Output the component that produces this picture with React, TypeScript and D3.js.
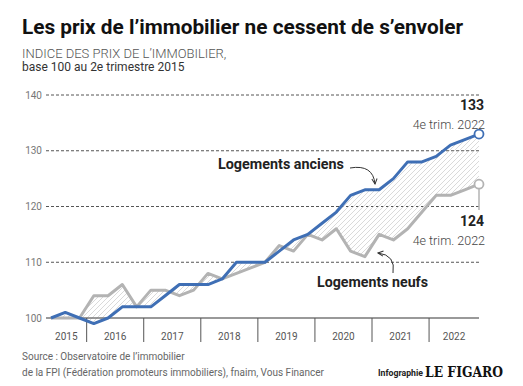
import React from "react";
import * as d3 from "d3";

const years = ["2015", "2016", "2017", "2018", "2019", "2020", "2021", "2022"];
const yTicks = [100, 110, 120, 130, 140];
// Quarterly, from 2e trimestre 2015 to 4e trimestre 2022
const anciens = [100, 101, 100, 99, 100, 102, 102, 102, 104, 106, 106, 106, 107, 110, 110, 110, 112, 114, 115, 117, 119, 122, 123, 123, 125, 128, 128, 129, 131, 132, 133];
const neufs = [100, 100, 100, 104, 104, 106, 102, 105, 105, 104, 105, 108, 107, 108, 109, 110, 113, 112, 115, 114, 116, 112, 111, 115, 114, 116, 119, 122, 122, 123, 124];

const W = 523;
const H = 386;
const BLUE = "#3f6fb5";
const GREY = "#b3b3b3";
const FONT = "Roboto, 'Noto Sans', sans-serif";

export default function App() {
  const x = d3.scaleLinear().domain([0, anciens.length - 1]).range([51, 479]);
  const y = d3.scaleLinear().domain([100, 140]).range([318, 95]);
  const left = 46;
  const right = 479;

  const line = d3
    .line<number>()
    .x((_, i) => x(i))
    .y((d) => y(d));
  const area = d3
    .area<number>()
    .x((_, i) => x(i))
    .y0((_, i) => y(neufs[i]))
    .y1((d) => y(d));

  const seps = years.slice(1).map((_, k) => x(2.5 + 4 * k));
  const bounds = [left, ...seps, right];
  const last = anciens.length - 1;

  return (
    <svg width={W} height={H} style={{ position: "absolute", left: 0, top: 0 }} fontFamily={FONT}>
      <defs>
        <pattern id="hatch" patternUnits="userSpaceOnUse" width="5" height="5">
          <path d="M-1,1 L1,-1 M0,5 L5,0 M4,6 L6,4" stroke="#d0d0d0" strokeWidth="0.8" />
        </pattern>
        <marker id="arr" viewBox="0 0 8 8" refX="7" refY="4" markerWidth="7" markerHeight="7" orient="auto">
          <path d="M1,1 L7,4 L1,7" fill="none" stroke="#333" strokeWidth="1.1" />
        </marker>
      </defs>
      <rect width={W} height={H} fill="#fff" />

      <text x={22} y={34} fontSize={20} fontWeight={700} fill="#111" textLength={441} lengthAdjust="spacingAndGlyphs">
        Les prix de l’immobilier ne cessent de s’envoler
      </text>
      <text x={22} y={58} fontSize={13} fontWeight={300} fill="#555">
        INDICE DES PRIX DE L’IMMOBILIER,
      </text>
      <text x={22} y={71} fontSize={12} fontWeight={400} fill="#333">
        base 100 au 2e trimestre 2015
      </text>

      {yTicks.map((t) => (
        <g key={t}>
          {t !== 100 && (
            <line x1={left} x2={right} y1={y(t)} y2={y(t)} stroke="#555" strokeWidth={1} strokeDasharray="3,2" />
          )}
          <text x={42} y={y(t) + 3.5} fontSize={10} fill="#777" textAnchor="end">
            {t}
          </text>
        </g>
      ))}

      <path d={area(anciens) || ""} fill="url(#hatch)" />

      <line x1={left} x2={right} y1={y(100)} y2={y(100)} stroke="#777" strokeWidth={1.5} />
      {seps.map((s, i) => (
        <line key={i} x1={s} x2={s} y1={y(100)} y2={342} stroke="#555" strokeWidth={1} />
      ))}
      {years.map((yr, i) => (
        <text key={yr} x={(bounds[i] + bounds[i + 1]) / 2} y={340} fontSize={10} fill="#555" textAnchor="middle">
          {yr}
        </text>
      ))}

      <path d={line(neufs) || ""} fill="none" stroke={GREY} strokeWidth={3} strokeLinejoin="round" />
      <path d={line(anciens) || ""} fill="none" stroke={BLUE} strokeWidth={3} strokeLinejoin="round" />

      <line x1={x(last)} x2={x(last)} y1={y(neufs[last])} y2={210} stroke={GREY} strokeWidth={1.5} />
      <circle cx={x(last)} cy={y(anciens[last])} r={4.5} fill="#fff" stroke={BLUE} strokeWidth={1.8} />
      <circle cx={x(last)} cy={y(neufs[last])} r={4.5} fill="#fff" stroke={GREY} strokeWidth={1.8} />

      <text x={484} y={110} fontSize={14} fontWeight={700} fill="#222" textAnchor="end">
        {anciens[last]}
      </text>
      <text x={485} y={129} fontSize={12.5} fontWeight={300} fill="#444" textAnchor="end">
        4e trim. 2022
      </text>
      <text x={484} y={226} fontSize={14} fontWeight={700} fill="#222" textAnchor="end">
        {neufs[last]}
      </text>
      <text x={485} y={245} fontSize={12.5} fontWeight={300} fill="#444" textAnchor="end">
        4e trim. 2022
      </text>

      <text x={218} y={169} fontSize={14} fontWeight={700} fill="#222" textLength={126} lengthAdjust="spacingAndGlyphs">
        Logements anciens
      </text>
      <path d="M350,168 Q373,164 375,184" fill="none" stroke="#333" strokeWidth={1} markerEnd="url(#arr)" />
      <text x={317} y={287} fontSize={14} fontWeight={700} fill="#222" textLength={111} lengthAdjust="spacingAndGlyphs">
        Logements neufs
      </text>
      <path d="M393,273 Q396,255 378,253" fill="none" stroke="#333" strokeWidth={1} markerEnd="url(#arr)" />

      <text x={22} y={360} fontSize={10} fill="#666">
        Source : Observatoire de l’immobilier
      </text>
      <text x={22} y={376} fontSize={10} fill="#666">
        de la FPI (Fédération promoteurs immobiliers), fnaim, Vous Financer
      </text>
      <text x={378} y={376} fontSize={9.5} fontWeight={700} fill="#222" textLength={45} lengthAdjust="spacingAndGlyphs">
        Infographie
      </text>
      <text x={425} y={377} fontSize={14} fontWeight={700} fill="#111" fontFamily="'DejaVu Serif', 'Liberation Serif', serif" textLength={78} lengthAdjust="spacingAndGlyphs">
        LE FIGARO
      </text>
    </svg>
  );
}
